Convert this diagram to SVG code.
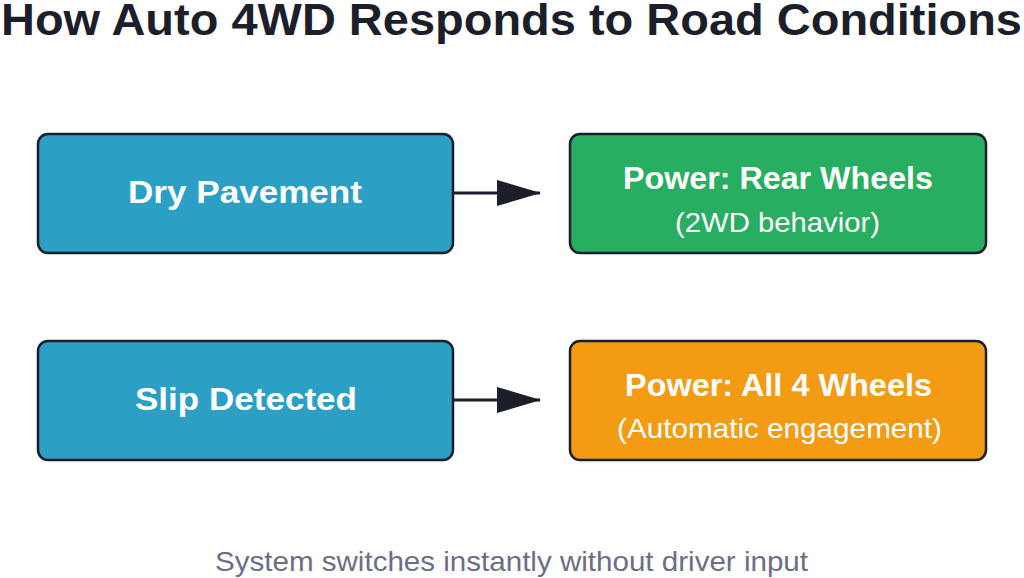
<svg xmlns="http://www.w3.org/2000/svg" width="1024" height="578" viewBox="0 0 1024 578">
<style>
.box{stroke:#1c1f2b;stroke-width:2.5}
.t{font-family:"Liberation Sans",Arial,sans-serif;fill:#ffffff}
.b{font-weight:bold;font-size:31px}
.s{font-size:28px}
.title{font-family:"Liberation Sans",Arial,sans-serif;font-weight:bold;font-size:44px;fill:#1c1f2b}
.foot{font-family:"Liberation Sans",Arial,sans-serif;font-size:28px;fill:#6b6e85}
.conn{stroke:#1c1f2b;stroke-width:3;fill:none}
</style>
<defs>
<marker id="ah" markerWidth="44" markerHeight="26" refX="43" refY="13" orient="auto" markerUnits="userSpaceOnUse">
<path d="M0,0 L44,13 L0,26 Z" fill="#1c1f2b"/>
</marker>
</defs>
<rect width="1024" height="578" fill="#ffffff"/>
<text class="title" x="1" y="35" textLength="1021" lengthAdjust="spacingAndGlyphs">How Auto 4WD Responds to Road Conditions</text>
<g id="dry">
<rect class="box" x="38" y="134" width="415" height="119" rx="10" fill="#2b9fc4"/>
<text class="t b" x="128" y="203" textLength="234" lengthAdjust="spacingAndGlyphs">Dry Pavement</text>
</g>
<g id="rear">
<rect class="box" x="570" y="134" width="416" height="119" rx="10" fill="#27ae60"/>
<text class="t b" x="623" y="189" textLength="310" lengthAdjust="spacingAndGlyphs">Power: Rear Wheels</text>
<text class="t s" x="675" y="232" textLength="205" lengthAdjust="spacingAndGlyphs">(2WD behavior)</text>
</g>
<g id="slip">
<rect class="box" x="38" y="341" width="415" height="119" rx="10" fill="#2b9fc4"/>
<text class="t b" x="135" y="410" textLength="222" lengthAdjust="spacingAndGlyphs">Slip Detected</text>
</g>
<g id="all4">
<rect class="box" x="570" y="341" width="416" height="119" rx="10" fill="#f39c13"/>
<text class="t b" x="625" y="396" textLength="307" lengthAdjust="spacingAndGlyphs">Power: All 4 Wheels</text>
<text class="t s" x="617" y="438" textLength="325" lengthAdjust="spacingAndGlyphs">(Automatic engagement)</text>
</g>
<g id="connectors">
<line class="conn" x1="454" y1="193" x2="540" y2="193" marker-end="url(#ah)"/>
<line class="conn" x1="454" y1="400" x2="540" y2="400" marker-end="url(#ah)"/>
</g>
<text class="foot" x="215" y="571" textLength="593" lengthAdjust="spacingAndGlyphs">System switches instantly without driver input</text>
</svg>
